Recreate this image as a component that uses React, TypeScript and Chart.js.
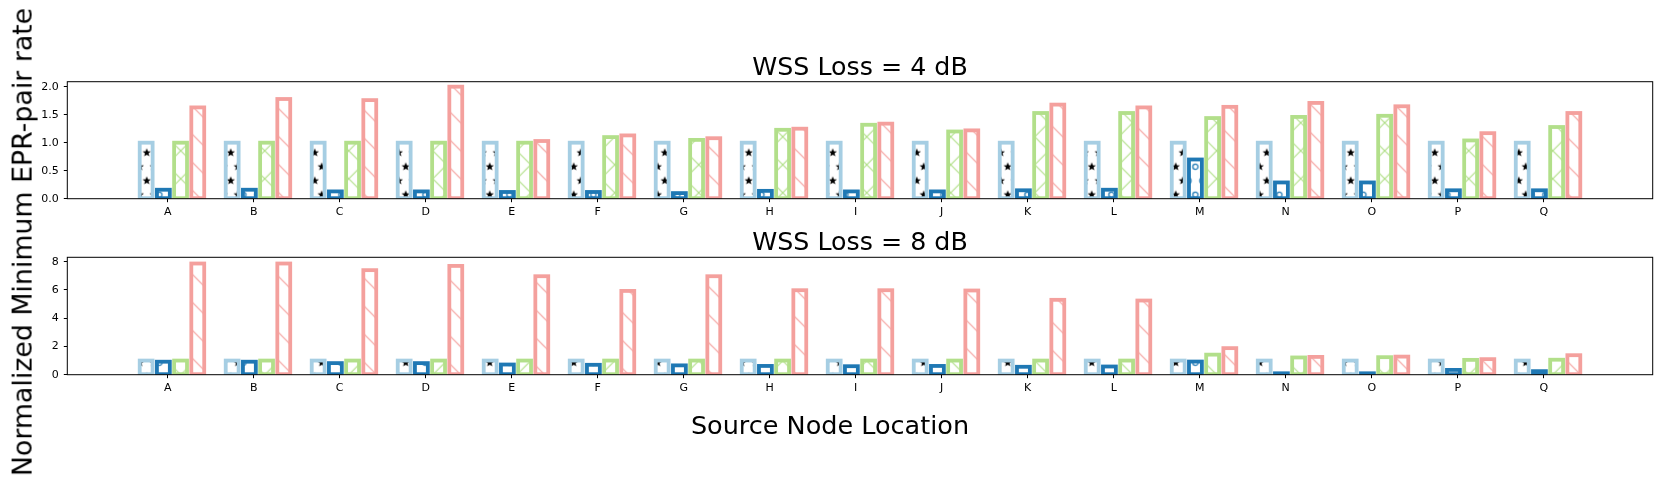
import React, { useEffect, useRef } from 'react';
import { Chart, registerables } from 'chart.js';

Chart.register(...registerables);

// ---------------- data ----------------
const categories = ['A', 'B', 'C', 'D', 'E', 'F', 'G', 'H', 'I', 'J', 'K', 'L', 'M', 'N', 'O', 'P', 'Q'];

// WSS Loss = 4 dB
const starSeries4dB = [1.0, 1.0, 1.0, 1.0, 1.0, 1.0, 1.0, 1.0, 1.0, 1.0, 1.0, 1.0, 1.0, 1.0, 1.0, 1.0, 1.0];
const circleSeries4dB = [0.16, 0.16, 0.13, 0.13, 0.12, 0.12, 0.10, 0.14, 0.13, 0.13, 0.15, 0.16, 0.70, 0.29, 0.29, 0.15, 0.15];
const crossSeries4dB = [1.0, 1.0, 1.0, 1.0, 1.0, 1.1, 1.05, 1.23, 1.32, 1.2, 1.53, 1.53, 1.44, 1.46, 1.48, 1.04, 1.28];
const diagSeries4dB = [1.63, 1.78, 1.76, 2.0, 1.03, 1.13, 1.08, 1.25, 1.34, 1.22, 1.68, 1.63, 1.64, 1.71, 1.65, 1.17, 1.53];

// WSS Loss = 8 dB
const starSeries8dB = [1.0, 1.0, 1.0, 1.0, 1.0, 1.0, 1.0, 1.0, 1.0, 1.0, 1.0, 1.0, 1.0, 1.0, 1.0, 1.0, 1.0];
const circleSeries8dB = [0.92, 0.92, 0.82, 0.82, 0.72, 0.7, 0.66, 0.62, 0.6, 0.62, 0.56, 0.58, 0.93, 0.1, 0.1, 0.34, 0.25];
const crossSeries8dB = [1.0, 1.0, 1.0, 1.0, 1.0, 1.0, 1.0, 1.0, 1.0, 1.0, 1.0, 1.0, 1.42, 1.22, 1.24, 1.05, 1.06];
const diagSeries8dB = [7.87, 7.87, 7.4, 7.7, 6.97, 5.93, 6.97, 5.98, 5.98, 5.96, 5.3, 5.25, 1.88, 1.26, 1.28, 1.1, 1.38];

const panelTitles = ['WSS Loss = 4 dB', 'WSS Loss = 8 dB'];
const yTicks4dB = [0, 0.5, 1.0, 1.5, 2.0];
const yTicks8dB = [0, 2, 4, 6, 8];
const xAxisLabel = 'Source Node Location';
const yAxisLabel = 'Normalized Minimum EPR-pair rate';

// ---------------- styles / layout ----------------
const FIG_W = 1661;
const FIG_H = 487;
const PLOT_LEFT = 67.3;
const PLOT_RIGHT = 1652.7;
const X_MIN = -1.167;
const X_MAX = 17.267;
const BAR_W_DATA = 0.15;
const PX_PER_UNIT = (PLOT_RIGHT - PLOT_LEFT) / (X_MAX - X_MIN);
const BAR_PX = BAR_W_DATA * PX_PER_UNIT;
const EDGE_W = 3.8;
const TICK_FONT_SIZE = 11;
const FONT = '"DejaVu Sans", "Liberation Sans", sans-serif';

const seriesStyles = [
  { kind: 'stars', color: '#a6cee3', offset: -0.25 },
  { kind: 'circles', color: '#1f78b4', offset: -0.05 },
  { kind: 'cross', color: '#b2df8a', offset: 0.15 },
  { kind: 'back', color: '#f4a09d', offset: 0.35 },
];

// global phase of hatches (figure coordinates)
const PHASE = {
  stars: [146.7, 152.7],
  circles: [1195.4, 166.7],
  cross: [180.7, 150.7],
  back: [180.7, 150.7],
} as Record<string, number[]>;

function drawStar(t: CanvasRenderingContext2D, cx: number, cy: number, R: number, r: number) {
  t.beginPath();
  for (let i = 0; i < 10; i++) {
    const rad = i % 2 === 0 ? R : r;
    const a = -Math.PI / 2 + (i * Math.PI) / 5;
    const x = cx + rad * Math.cos(a);
    const y = cy + rad * Math.sin(a);
    if (i === 0) t.moveTo(x, y);
    else t.lineTo(x, y);
  }
  t.closePath();
  t.fill();
}

function makePattern(ctx: CanvasRenderingContext2D, kind: string, color: string, canvasTop: number) {
  const S = 28;
  const tile = document.createElement('canvas');
  tile.width = S;
  tile.height = S;
  const t = tile.getContext('2d')!;
  const lattice = [
    [0, 0], [14, 0], [28, 0], [0, 28], [14, 28], [28, 28], [7, 14], [21, 14], [-7, 14], [35, 14],
  ];
  if (kind === 'stars') {
    t.fillStyle = '#000';
    lattice.forEach(([x, y]) => drawStar(t, x, y, 4.4, 1.9));
  } else if (kind === 'circles') {
    t.strokeStyle = color;
    t.lineWidth = 1.3;
    lattice.forEach(([x, y]) => {
      t.beginPath();
      t.arc(x, y, 2.6, 0, Math.PI * 2);
      t.stroke();
    });
  } else {
    t.strokeStyle = color;
    t.lineWidth = 1.2;
    for (let k = -1; k <= 1; k++) {
      t.beginPath();
      t.moveTo(-2, 28 * k - 2);
      t.lineTo(S + 2, 28 * k + S + 2);
      t.stroke();
      if (kind === 'cross') {
        t.beginPath();
        t.moveTo(-2, 28 * (k + 1) + 2);
        t.lineTo(S + 2, 28 * k - 2);
        t.stroke();
      }
    }
  }
  const p = ctx.createPattern(tile, 'repeat')!;
  const [px, py] = PHASE[kind];
  p.setTransform(new DOMMatrix().translate(px, py - canvasTop));
  return p;
}

const mplPlugin = {
  id: 'mplDecor',
  afterDatasetsDraw(chart: any) {
    const { ctx, chartArea: a } = chart;
    ctx.save();
    ctx.beginPath();
    ctx.rect(a.left, a.top, a.right - a.left, a.bottom - a.top);
    ctx.clip();
    chart.data.datasets.forEach((ds: any, di: number) => {
      const meta = chart.getDatasetMeta(di);
      ctx.strokeStyle = ds.edgeColor;
      ctx.lineWidth = EDGE_W;
      meta.data.forEach((el: any) => {
        const { x, y, base, width } = el.getProps(['x', 'y', 'base', 'width'], true);
        ctx.strokeRect(x - width / 2, y, width, base - y);
      });
    });
    ctx.restore();
    ctx.save();
    ctx.strokeStyle = '#000';
    ctx.lineWidth = 1;
    ctx.strokeRect(a.left, a.top, a.right - a.left, a.bottom - a.top);
    ctx.restore();
  },
  afterDraw(chart: any, _args: any, opts: any) {
    const { ctx, chartArea: a } = chart;
    ctx.save();
    ctx.font = `${opts.size}px ${FONT}`;
    ctx.fillStyle = '#000';
    ctx.textAlign = 'center';
    ctx.textBaseline = 'alphabetic';
    ctx.fillText(opts.text, (a.left + a.right) / 2, a.top - opts.gap);
    ctx.restore();
  },
};

type Panel = {
  title: string;
  series: number[][];
  yMax: number;
  yTicks: number[];
  digits: number;
  canvasTop: number;
  canvasH: number;
  areaTop: number;
  areaBottom: number;
};

const panels: Panel[] = [
  {
    title: panelTitles[0],
    series: [starSeries4dB, circleSeries4dB, crossSeries4dB, diagSeries4dB],
    yMax: 2.089,
    yTicks: yTicks4dB,
    digits: 1,
    canvasTop: 0,
    canvasH: 220,
    areaTop: 81.7,
    areaBottom: 198.7,
  },
  {
    title: panelTitles[1],
    series: [starSeries8dB, circleSeries8dB, crossSeries8dB, diagSeries8dB],
    yMax: 8.31,
    yTicks: yTicks8dB,
    digits: 0,
    canvasTop: 220,
    canvasH: 267,
    areaTop: 257.3,
    areaBottom: 374.7,
  },
];

function makeChart(canvas: HTMLCanvasElement, p: Panel) {
  const ctx = canvas.getContext('2d')!;
  const X_AXIS_H = 22;
  const datasets = p.series.map((vals, si) => {
    const st = seriesStyles[si];
    return {
      label: st.kind,
      data: vals.map((v, i) => ({ x: i + st.offset, y: v })),
      backgroundColor: makePattern(ctx, st.kind, st.color, p.canvasTop),
      borderWidth: 0,
      edgeColor: st.color,
      barThickness: BAR_PX,
      grouped: false,
      inflateAmount: 0,
    } as any;
  });
  return new Chart(canvas, {
    type: 'bar',
    data: { datasets },
    plugins: [mplPlugin],
    options: {
      animation: false,
      responsive: false,
      events: [],
      layout: {
        padding: {
          left: 0,
          right: FIG_W - PLOT_RIGHT,
          top: p.areaTop - p.canvasTop,
          bottom: p.canvasH - (p.areaBottom - p.canvasTop) - X_AXIS_H,
        },
      },
      plugins: {
        legend: { display: false },
        tooltip: { enabled: false },
        mplDecor: { text: p.title, size: 25.3, gap: 7 },
      } as any,
      scales: {
        x: {
          type: 'linear',
          min: X_MIN,
          max: X_MAX,
          offset: false,
          grid: { display: true, drawOnChartArea: false, drawTicks: true, tickLength: 3.5, color: '#000', lineWidth: 1, offset: false },
          border: { display: false },
          afterBuildTicks: (s: any) => {
            s.ticks = categories.map((_, i) => ({ value: i }));
          },
          afterFit: (s: any) => {
            s.height = X_AXIS_H;
          },
          ticks: {
            autoSkip: false,
            maxRotation: 0,
            minRotation: 0,
            padding: 3.5,
            color: '#000',
            font: { family: FONT, size: TICK_FONT_SIZE },
            callback: (v: any) => categories[Math.round(Number(v))] ?? '',
          },
        },
        y: {
          type: 'linear',
          min: 0,
          max: p.yMax,
          grid: { display: true, drawOnChartArea: false, drawTicks: true, tickLength: 3.5, color: '#000', lineWidth: 1 },
          border: { display: false },
          afterBuildTicks: (s: any) => {
            s.ticks = p.yTicks.map((v) => ({ value: v }));
          },
          afterFit: (s: any) => {
            s.width = PLOT_LEFT;
          },
          ticks: {
            padding: 5,
            color: '#000',
            font: { family: FONT, size: TICK_FONT_SIZE },
            callback: (v: any) => Number(v).toFixed(p.digits),
          },
        },
      },
    } as any,
  });
}

export default function App() {
  const ref1 = useRef<HTMLCanvasElement>(null);
  const ref2 = useRef<HTMLCanvasElement>(null);
  useEffect(() => {
    document.body.style.margin = '0';
    const c1 = makeChart(ref1.current!, panels[0]);
    const c2 = makeChart(ref2.current!, panels[1]);
    return () => {
      c1.destroy();
      c2.destroy();
    };
  }, []);
  return (
    <div style={{ position: 'absolute', left: 0, top: 0, width: FIG_W, height: FIG_H, background: '#fff', overflow: 'hidden' }}>
      <canvas
        ref={ref1}
        width={FIG_W}
        height={panels[0].canvasH}
        style={{ position: 'absolute', left: 0, top: panels[0].canvasTop, width: FIG_W, height: panels[0].canvasH }}
      />
      <canvas
        ref={ref2}
        width={FIG_W}
        height={panels[1].canvasH}
        style={{ position: 'absolute', left: 0, top: panels[1].canvasTop, width: FIG_W, height: panels[1].canvasH }}
      />
      <div
        style={{
          position: 'absolute',
          left: 22.5,
          top: 242,
          transform: 'translate(-50%, -50%) rotate(-90deg)',
          whiteSpace: 'nowrap',
          fontFamily: FONT,
          fontSize: 26.8,
          lineHeight: '26.8px',
          color: '#000',
        }}
      >
        {yAxisLabel}
      </div>
      <div
        style={{
          position: 'absolute',
          left: 830,
          top: 413.4,
          transform: 'translateX(-50%)',
          whiteSpace: 'nowrap',
          fontFamily: FONT,
          fontSize: 25.5,
          lineHeight: '25.5px',
          color: '#000',
        }}
      >
        {xAxisLabel}
      </div>
    </div>
  );
}
